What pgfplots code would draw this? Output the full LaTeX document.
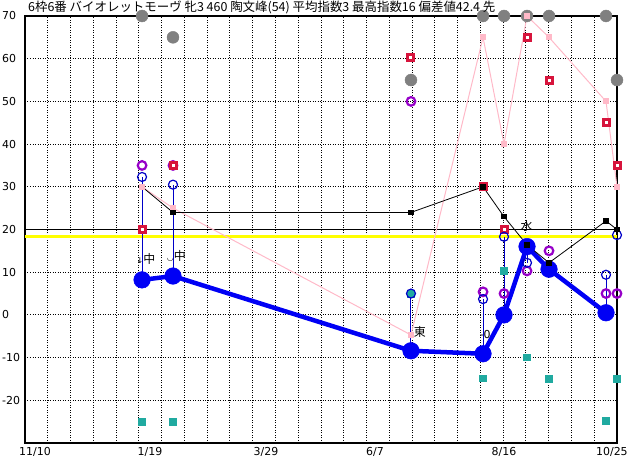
\documentclass[border=0pt]{standalone}
\usepackage{pgfplots}
\pgfplotsset{compat=1.18}
\usepackage{pgfplotstable}
\usepackage{fontspec}
\setmainfont{DejaVu Sans}
\newfontfamily\jp{Noto Sans CJK JP}
\newfontfamily\dv{DejaVu Sans}
\definecolor{myblue}{RGB}{0,0,245}
\definecolor{thinblue}{RGB}{0,0,200}
\definecolor{mypurple}{RGB}{150,0,200}
\definecolor{myred}{RGB}{215,20,60}
\definecolor{myteal}{RGB}{32,170,160}
\definecolor{mygray}{RGB}{128,128,128}
\definecolor{mypink}{RGB}{255,185,200}
\definecolor{myyellow}{RGB}{255,255,0}

% day index from 11/10
\pgfplotstableread{
x y
69.2 8.2
87.5 9.1
228.2 -8.4
270.8 -9.1
283.2 0
296.8 16
309.8 10.7
343.5 0.5
}\blueT
\pgfplotstableread{
x y
69.2 32.3
87.5 30.5
228.2 5
270.8 3.7
283.2 18.3
296.8 12.2
343.5 9.4
350 18.7
}\openT
\pgfplotstableread{
x y
69.2 35
87.5 35
228.2 50
270.8 5.4
283.2 5
296.8 10.3
309.8 15
343.5 5
350 5
}\purpleT
\pgfplotstableread{
x y
69.2 20
87.5 35
228.2 60.2
270.8 30
283.2 20
296.8 65
309.8 55
343.5 45
350 35
}\redT
\pgfplotstableread{
x y
69.2 70
87.5 65
228.2 55
270.8 70
283.2 70
296.8 70
309.8 70
343.5 70
350 55
}\grayT
\pgfplotstableread{
x y
69.2 -25
87.5 -25
228.2 5
270.8 -14.8
283.2 10.3
296.8 -9.9
309.8 -15
343.5 -24.8
350 -15
}\tealT
\pgfplotstableread{
x y
69.2 30
87.5 25
228.2 -4.7
270.8 65
283.2 40
296.8 70
309.8 65
343.5 50
350 30
}\pinkT
\pgfplotstableread{
x y
87.5 24
228.2 24
270.8 30
283.2 23
296.8 16.4
309.8 12.2
343.5 22
350 20
}\blackT

\begin{document}
\begin{tikzpicture}
\path[use as bounding box] (-25bp,-17bp) rectangle (607bp,443bp);
\begin{axis}[
  at={(0bp,0bp)}, anchor=south west,
  scale only axis, width=592bp, height=427bp,
  xmin=0, xmax=350, ymin=-30, ymax=70,
  xtick={5.9,73.9,142.5,206.9,283.2,347},
  xticklabels={11/10,1/19,3/29,6/7,8/16,10/25},
  minor xtick={13.46,26.92,40.38,53.85,67.31,80.77,94.23,107.69,121.15,134.62,148.08,161.54,175,188.46,201.92,215.38,228.85,242.31,255.77,269.23,282.69,296.15,309.62,323.08,336.54},
  xmajorgrids=false, xminorgrids=true,
  ytick={-20,-10,0,10,20,30,40,50,60,70},
  ymajorgrids=true,
  major grid style={black, line width=0.9bp, dash pattern=on 1bp off 1.5bp},
  minor grid style={black, line width=0.9bp, dash pattern=on 1bp off 1.5bp},
  major tick length=0pt, minor tick length=0pt,
  tick label style={font=\fontsize{11}{12}\selectfont, black},
  yticklabel style={anchor=west, inner sep=0pt, xshift=-23bp},
  xticklabel style={yshift=-1bp},
  axis line style={line width=2.5bp, black},
  /pgf/number format/assume math mode=true,
  clip=false,
  unbounded coords=jump,
]
% reference lines
\addplot[myyellow, line width=3bp, forget plot] coordinates {(0,18.3) (350,18.3)};
\addplot[black, line width=0.9bp, forget plot] coordinates {(0,20) (350,20)};
% gray
\addplot[only marks, mark=*, mark size=6bp, mygray, mark options={draw=mygray, fill=mygray}] table {\grayT};
% teal
\addplot[only marks, mark=square*, mark size=3.3bp, mark options={draw=myteal, fill=myteal, line width=0.5bp}] table {\tealT};
% pink line
\addplot[mypink, line width=1bp, mark=square*, mark size=2.5bp, mark options={draw=mypink, fill=mypink}] table {\pinkT};
% purple rings
\addplot[only marks, mark=o, mark size=4.3bp, mark options={draw=mypurple, line width=2.2bp}] table {\purpleT};
% red squares
\addplot[only marks, mark=square*, mark size=3bp, mark options={draw=myred, fill=white, line width=3bp}] table {\redT};
% thin blue verticals
\addplot[thinblue, line width=1bp] coordinates {
(69.2,32.3) (69.2,8.2) (69.2,nan)
(87.5,30.5) (87.5,9.1) (87.5,nan)
(228.2,5) (228.2,-8.4) (228.2,nan)
(270.8,3.7) (270.8,-9.1) (270.8,nan)
(283.2,18.3) (283.2,0) (283.2,nan)
(296.8,12.2) (296.8,16) (296.8,nan)
(343.5,9.4) (343.5,0.5)
};
% open blue circles
\addplot[only marks, mark=o, mark size=4.5bp, mark options={draw=thinblue, line width=1.2bp}] table {\openT};
% thick blue
\addplot[myblue, line width=4.5bp, mark=*, mark size=8.3bp, mark options={draw=myblue, fill=myblue, line width=0.5bp}] table {\blueT};
% black series
\addplot[black, line width=0.8bp, forget plot] coordinates {(69.2,30) (87.5,24)};
\addplot[black, line width=0.8bp, mark=square*, mark size=2.2bp, mark options={draw=black, fill=black}] table {\blackT};
% text annotations
\node[font=\fontsize{12}{13}\selectfont, inner sep=0pt] at (axis cs:71.5,13.2) {{\dv\fontsize{8}{9}\selectfont ↓}{\jp 中}};
\node[font=\fontsize{12}{13}\selectfont, inner sep=0pt] at (axis cs:89.5,13.8) {{\dv\fontsize{8}{9}\selectfont ◡}{\jp 中}};
\node[font=\fontsize{12}{13}\selectfont, inner sep=0pt] at (axis cs:233.5,-4) {\jp 東};
\node[font=\fontsize{11}{12}\selectfont, inner sep=0pt] at (axis cs:272,-4.7) {-0};
\node[font=\fontsize{12}{13}\selectfont, inner sep=0pt] at (axis cs:296.5,20.8) {\jp 水};
\end{axis}
\node[anchor=west, inner sep=0pt] at (3bp,436bp) {\jp\fontsize{12.5}{13}\selectfont 6枠6番 バイオレットモーヴ 牝3 460 陶文峰(54) 平均指数3 最高指数16 偏差値42.4 先};
\end{tikzpicture}
\end{document}
